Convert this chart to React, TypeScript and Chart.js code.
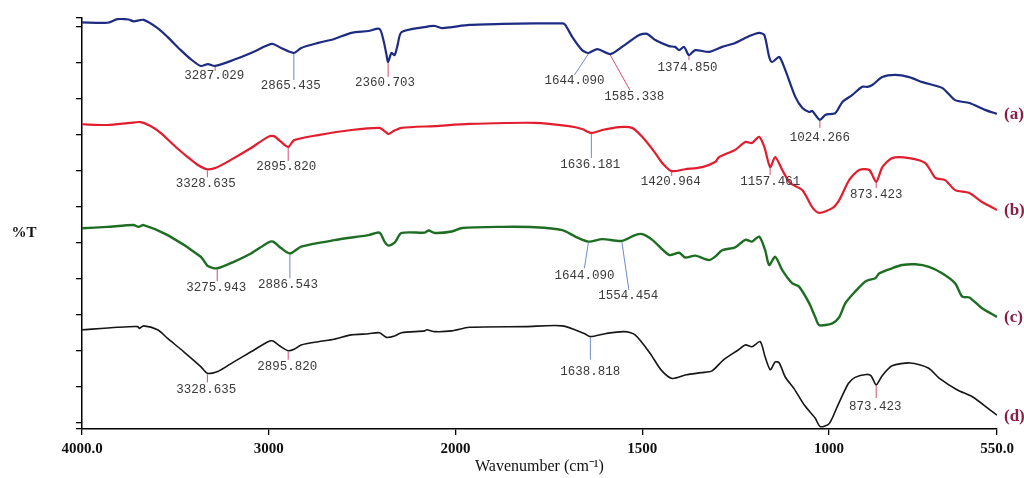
import React, { useEffect, useRef } from "react";
import { Chart, registerables } from "chart.js";

Chart.register(...registerables);

// ---------- data ----------
const xTickWavenumbers = [4000, 3000, 2000, 1500, 1000, 550];
const xTickLabels = ["4000.0", "3000", "2000", "1500", "1000", "550.0"];
const yTickValues = [-1.75, 0, 10, 20, 30, 40, 50, 60, 70, 80, 90, 100, 110, 112.42];
const yMin = -1.75;
const yMax = 112.42;

const seriesNames = ["(a)", "(b)", "(c)", "(d)"];

// [wavenumber (cm-1), %T]
const spectrumA: [number, number][] = [
  [4000, 111.2], [3864, 111.1], [3810, 112.1], [3751, 112.0], [3724, 111.5], [3670, 111.9],
  [3595, 109.6], [3541, 107.1], [3471, 103.5], [3418, 101.0], [3364, 99.1], [3326, 99.6],
  [3287.029, 99.1], [3187, 100.8], [3095, 102.7], [3004, 104.9], [2977, 105.2], [2934, 104.1],
  [2865.435, 102.7], [2826, 104.1], [2735, 105.5], [2649, 106.6], [2558, 108.3], [2466, 108.8],
  [2407, 109.4], [2386, 106.3], [2369, 102.1], [2360.703, 100.2], [2343, 102.7], [2326, 102.1],
  [2310, 104.9], [2289, 108.5], [2165, 109.9], [2111, 110.2], [2074, 109.6], [2020, 109.9],
  [1963, 110.5], [1875, 110.8], [1787, 110.9], [1714, 110.9], [1706, 110.5], [1687, 107.1],
  [1661, 103.5], [1644.09, 102.7], [1620, 103.8], [1585.338, 102.4], [1554, 104.4], [1508, 107.7],
  [1487, 108.0], [1465, 106.3], [1428, 104.6], [1412, 104.4], [1401, 103.5], [1388, 104.4],
  [1374.85, 102.1], [1358, 103.5], [1321, 103.0], [1286, 104.4], [1251, 105.5], [1213, 107.4],
  [1187, 108.3], [1173, 107.7], [1160, 101.6], [1152, 100.2], [1133, 101.6], [1117, 98.0],
  [1090, 90.5], [1071, 87.4], [1053, 86.3], [1045, 86.6], [1024.266, 84.1], [1010, 85.5],
  [983, 86.0], [964, 89.1], [938, 91.0], [911, 93.3], [897, 93.3], [884, 93.8], [857, 96.0],
  [823, 96.6], [785, 96.0], [750, 94.6], [697, 93.0], [662, 89.6], [624, 88.8], [582, 86.9],
  [550, 85.8],
];

const spectrumB: [number, number][] = [
  [4000, 82.9], [3864, 82.7], [3741, 83.3], [3687, 83.5], [3633, 82.4], [3579, 80.5],
  [3498, 76.6], [3434, 73.8], [3380, 71.6], [3328.635, 70.4], [3283, 70.8], [3203, 73.0],
  [3095, 76.3], [3004, 79.4], [2972, 79.6], [2934, 78.0], [2895.82, 76.6], [2864, 78.5],
  [2735, 79.9], [2558, 81.3], [2407, 81.9], [2375, 80.8], [2359, 80.2], [2332, 81.0],
  [2289, 81.9], [2111, 82.4], [1963, 83.0], [1787, 83.3], [1696, 82.4], [1661, 81.6],
  [1636.181, 80.5], [1607, 81.3], [1562, 82.1], [1527, 81.9], [1500, 79.4], [1465, 74.9],
  [1446, 72.1], [1420.964, 69.9], [1385, 70.4], [1339, 71.0], [1305, 72.4], [1294, 73.8],
  [1251, 75.8], [1224, 78.0], [1206, 77.7], [1187, 79.4], [1173, 76.6], [1157.461, 71.0],
  [1144, 73.8], [1125, 70.2], [1104, 66.6], [1071, 64.6], [1045, 59.9], [1026, 58.3],
  [991, 59.6], [972, 61.9], [946, 67.4], [919, 70.2], [892, 70.2], [873.423, 66.9],
  [857, 71.0], [831, 73.5], [785, 73.5], [742, 72.1], [715, 68.0], [689, 67.4], [662, 64.6],
  [624, 63.8], [590, 61.3], [550, 59.1],
];

const spectrumC: [number, number][] = [
  [4000, 54.0], [3864, 54.4], [3724, 54.9], [3697, 54.4], [3670, 54.9], [3541, 52.1],
  [3364, 46.1], [3326, 43.5], [3275.943, 42.9], [3187, 44.7], [3095, 47.0], [3004, 50.0],
  [2977, 50.3], [2934, 48.5], [2886.543, 47.0], [2826, 48.9], [2649, 50.7], [2466, 52.1],
  [2407, 52.8], [2380, 50.3], [2359, 49.2], [2326, 50.0], [2289, 52.7], [2165, 52.8],
  [2144, 53.4], [2111, 52.7], [2020, 53.1], [1982, 54.1], [1875, 54.4], [1787, 54.3],
  [1714, 53.5], [1679, 51.7], [1644.09, 50.3], [1607, 51.0], [1554.454, 50.5], [1519, 52.1],
  [1500, 52.4], [1473, 50.8], [1428, 46.6], [1401, 47.2], [1385, 45.9], [1358, 46.4],
  [1321, 45.2], [1305, 46.1], [1286, 47.9], [1251, 48.7], [1224, 50.8], [1206, 50.3],
  [1187, 51.7], [1171, 48.0], [1160, 43.8], [1144, 46.1], [1125, 42.4], [1098, 38.7],
  [1080, 37.8], [1053, 33.2], [1037, 29.4], [1026, 27.1], [991, 27.6], [972, 29.4],
  [956, 33.2], [930, 36.4], [903, 39.2], [892, 39.7], [876, 40.1], [865, 41.5], [831, 42.9],
  [804, 43.8], [769, 44.0], [732, 43.3], [697, 41.5], [662, 38.7], [643, 35.0], [624, 34.8],
  [590, 31.8], [550, 29.4],
];

const spectrumD: [number, number][] = [
  [4000, 25.8], [3810, 26.5], [3702, 26.7], [3692, 26.2], [3670, 26.9], [3595, 25.8],
  [3541, 23.4], [3455, 19.7], [3364, 15.6], [3328.635, 13.7], [3273, 14.2], [3187, 16.9],
  [3095, 19.7], [3004, 22.5], [2977, 22.7], [2940, 21.3], [2895.82, 20.0], [2864, 20.4],
  [2826, 21.6], [2735, 22.5], [2649, 23.2], [2558, 24.4], [2466, 24.7], [2407, 25.0],
  [2369, 23.7], [2326, 24.1], [2289, 25.0], [2165, 25.5], [2154, 25.8], [2111, 25.3],
  [2020, 25.5], [1963, 26.5], [1813, 26.7], [1714, 26.9], [1655, 24.8], [1638.818, 23.9],
  [1596, 24.8], [1548, 25.3], [1519, 24.4], [1479, 19.3], [1449, 14.6], [1420, 12.3],
  [1382, 13.3], [1342, 13.9], [1313, 14.4], [1283, 17.4], [1243, 20.2], [1224, 21.6],
  [1206, 21.1], [1184, 22.5], [1171, 18.3], [1157, 14.7], [1144, 16.9], [1133, 16.6],
  [1117, 12.7], [1093, 9.4], [1066, 4.9], [1037, 1.3], [1023, -1.1], [999, -0.2], [978, 4.4],
  [948, 10.9], [930, 12.6], [900, 13.4], [887, 13.0], [873.423, 10.5], [857, 13.1],
  [831, 15.8], [782, 16.6], [734, 15.2], [705, 12.4], [656, 9.1], [616, 7.2], [568, 3.5],
  [550, 2.1],
];

const peaksA = [3287.029, 2865.435, 2360.703, 1644.09, 1585.338, 1374.85, 1024.266];
const peaksB = [3328.635, 2895.82, 1636.181, 1420.964, 1157.461, 873.423];
const peaksC = [3275.943, 2886.543, 1644.09, 1554.454];
const peaksD = [3328.635, 2895.82, 1638.818, 873.423];

// ---------- styles / layout (not data) ----------
const RED_TICK = "#d0506e";
const BLUE_TICK = "#6a8bcc";
type Callout = { c: string; dx: number; dy: number; lx: number; ly: number };
const calloutsA: Callout[] = [
  { c: RED_TICK, dx: 0, dy: 5, lx: -1, ly: 10 },
  { c: BLUE_TICK, dx: 0, dy: 27, lx: -3, ly: 33 },
  { c: RED_TICK, dx: 0, dy: 15, lx: -3, ly: 21 },
  { c: BLUE_TICK, dx: -14, dy: 22, lx: -14, ly: 28 },
  { c: RED_TICK, dx: 19.5, dy: 36, lx: 24, ly: 43 },
  { c: RED_TICK, dx: 0, dy: 5, lx: -1.5, ly: 13 },
  { c: RED_TICK, dx: 0, dy: 8, lx: 0, ly: 18 },
];
const calloutsB: Callout[] = [
  { c: RED_TICK, dx: 0, dy: 8, lx: -1.5, ly: 14 },
  { c: RED_TICK, dx: 0, dy: 14, lx: -2, ly: 20 },
  { c: BLUE_TICK, dx: 0, dy: 25, lx: -1, ly: 32 },
  { c: RED_TICK, dx: 0, dy: 5, lx: -1, ly: 11 },
  { c: RED_TICK, dx: 0, dy: 8, lx: 0, ly: 15 },
  { c: RED_TICK, dx: 0, dy: 6, lx: 0, ly: 13 },
];
const calloutsC: Callout[] = [
  { c: RED_TICK, dx: 0, dy: 13, lx: -1, ly: 19.5 },
  { c: BLUE_TICK, dx: 0, dy: 25, lx: -2, ly: 31.5 },
  { c: BLUE_TICK, dx: -4, dy: 26.5, lx: -4, ly: 34.5 },
  { c: BLUE_TICK, dx: 7, dy: 49, lx: 6.5, ly: 55 },
];
const calloutsD: Callout[] = [
  { c: RED_TICK, dx: 0, dy: 9, lx: -1, ly: 16 },
  { c: RED_TICK, dx: 0, dy: 9, lx: -1, ly: 15.5 },
  { c: BLUE_TICK, dx: 0, dy: 23, lx: 0, ly: 35 },
  { c: RED_TICK, dx: 0, dy: 13, lx: -1, ly: 22 },
];

const seriesColors = ["#1d2c82", "#e21d2d", "#1d6d23", "#161616"];
const seriesWidths = [2.2, 2.2, 2.4, 1.6];

const seriesList = [
  { name: seriesNames[0], data: spectrumA, peaks: peaksA, callouts: calloutsA },
  { name: seriesNames[1], data: spectrumB, peaks: peaksB, callouts: calloutsB },
  { name: seriesNames[2], data: spectrumC, peaks: peaksC, callouts: calloutsC },
  { name: seriesNames[3], data: spectrumD, peaks: peaksD, callouts: calloutsD },
];

// FTIR axis: scale halves above 2000 cm-1
const toAxis = (w: number) => (w > 2000 ? 2000 + (w - 2000) / 2 : w);

const valueAt = (data: [number, number][], w: number) => {
  for (let i = 0; i < data.length - 1; i++) {
    const [w1, v1] = data[i];
    const [w2, v2] = data[i + 1];
    if (w <= w1 && w >= w2) {
      if (w1 === w2) return v1;
      return v1 + ((w - w1) / (w2 - w1)) * (v2 - v1);
    }
  }
  return data[data.length - 1][1];
};

const overlayPlugin = {
  id: "ftirOverlay",
  afterDatasetsDraw(chart: any) {
    const { ctx, chartArea } = chart;
    const x = chart.scales.x;
    const y = chart.scales.y;
    ctx.save();
    seriesList.forEach((s) => {
      s.peaks.forEach((p, i) => {
        const st = s.callouts[i];
        const px = x.getPixelForValue(toAxis(p));
        const py = y.getPixelForValue(valueAt(s.data, p));
        ctx.strokeStyle = st.c;
        ctx.lineWidth = 1;
        ctx.beginPath();
        ctx.moveTo(px, py + 1);
        ctx.lineTo(px + st.dx, py + st.dy);
        ctx.stroke();
        ctx.fillStyle = "#3a3a3a";
        ctx.font = "12.5px 'Liberation Mono', 'DejaVu Sans Mono', monospace";
        ctx.textAlign = "center";
        ctx.textBaseline = "middle";
        ctx.fillText(p.toFixed(3), px + st.lx, py + st.ly);
      });
      const last = s.data[s.data.length - 1];
      ctx.font = "bold 17px 'Liberation Serif', serif";
      ctx.fillStyle = "#8c1d43";
      ctx.textAlign = "left";
      ctx.textBaseline = "middle";
      ctx.fillText(s.name, x.getPixelForValue(toAxis(last[0])) + 7, y.getPixelForValue(last[1]) + 1);
    });
    ctx.font = "bold 15px 'Liberation Serif', serif";
    ctx.fillStyle = "#111";
    ctx.textAlign = "center";
    ctx.textBaseline = "middle";
    ctx.fillText("%T", chartArea.left - 58, (chartArea.top + chartArea.bottom) / 2 + 9.5);
    ctx.restore();
  },
};

export default function App() {
  const canvasRef = useRef<HTMLCanvasElement | null>(null);

  useEffect(() => {
    if (!canvasRef.current) return;
    const chart = new Chart(canvasRef.current, {
      type: "line",
      data: {
        datasets: seriesList.map((s, i) => ({
          label: s.name,
          data: s.data.map(([w, v]) => ({ x: toAxis(w), y: v })),
          borderColor: seriesColors[i],
          borderWidth: seriesWidths[i],
          pointRadius: 0,
          tension: 0.25,
          fill: false,
        })),
      },
      options: {
        animation: false,
        responsive: false,
        devicePixelRatio: 1,
        layout: { padding: { top: 18, right: 27, left: 0, bottom: 0 } },
        plugins: { legend: { display: false }, tooltip: { enabled: false } },
        scales: {
          x: {
            type: "linear",
            reverse: true,
            min: 550,
            max: 3000,
            afterBuildTicks: (scale: any) => {
              scale.ticks = xTickWavenumbers.map((w) => ({ value: toAxis(w) }));
            },
            afterFit: (scale: any) => {
              scale.height = 49;
            },
            ticks: {
              autoSkip: false,
              maxRotation: 0,
              padding: 5,
              color: "#111",
              font: { family: "'Liberation Serif', serif", size: 15, weight: "bold" },
              callback: (value: any) => {
                const i = xTickWavenumbers.findIndex((w) => Math.abs(toAxis(w) - Number(value)) < 1e-6);
                return i >= 0 ? xTickLabels[i] : "";
              },
            },
            grid: { drawOnChartArea: false, drawTicks: true, tickLength: 6, color: "#000", lineWidth: 1.3 },
            border: { display: true, color: "#000", width: 1.5 },
            title: {
              display: true,
              text: "Wavenumber (cm⁻¹)",
              color: "#111",
              font: { family: "'Liberation Serif', serif", size: 16 },
              padding: { top: 0, bottom: 2 },
            },
          },
          y: {
            type: "linear",
            min: yMin,
            max: yMax,
            afterBuildTicks: (scale: any) => {
              scale.ticks = yTickValues.map((v) => ({ value: v }));
            },
            afterFit: (scale: any) => {
              scale.width = 82;
            },
            ticks: { display: false },
            grid: { drawOnChartArea: false, drawTicks: true, tickLength: 6, color: "#000", lineWidth: 1.3 },
            border: { display: true, color: "#000", width: 1.5 },
          },
        },
      },
      plugins: [overlayPlugin],
    } as any);
    return () => chart.destroy();
  }, []);

  return (
    <div style={{ position: "fixed", left: 0, top: 0, width: 1024, height: 478, background: "#fff" }}>
      <canvas ref={canvasRef} width={1024} height={478} style={{ display: "block" }} />
    </div>
  );
}
